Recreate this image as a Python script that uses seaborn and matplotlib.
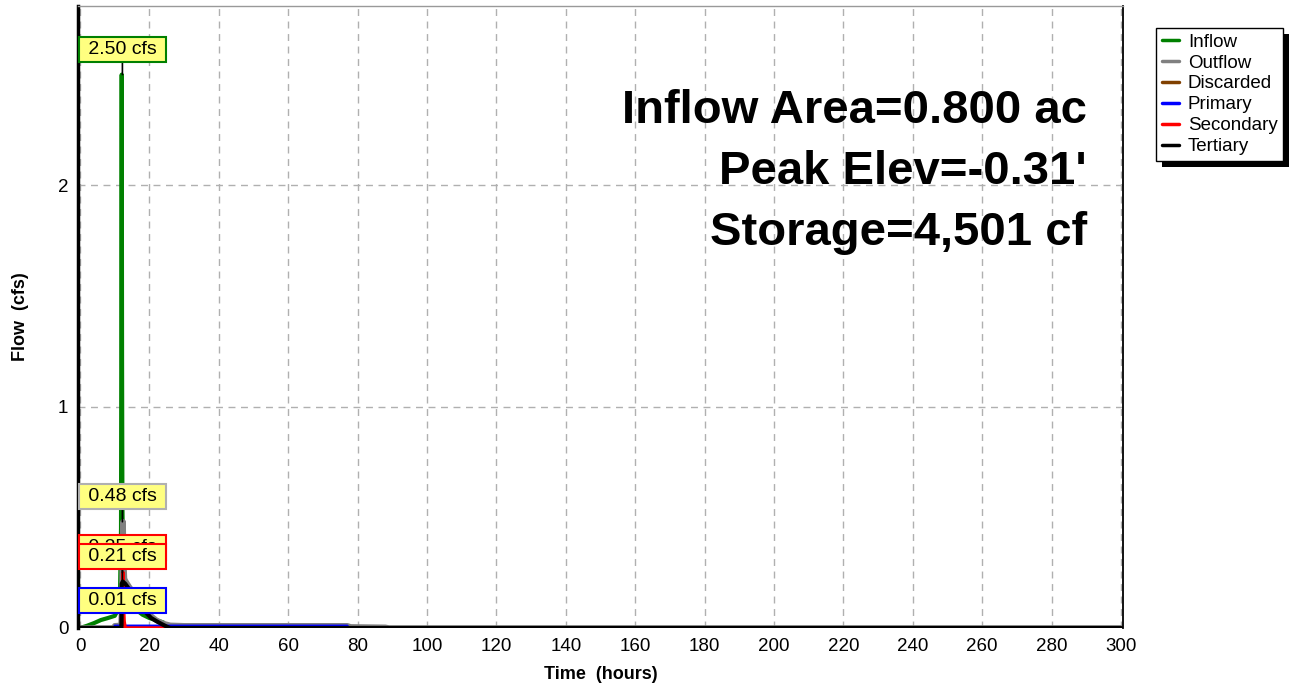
import numpy as np
import pandas as pd
import matplotlib
matplotlib.use("Agg")
import matplotlib.pyplot as plt
from matplotlib.ticker import MultipleLocator
from matplotlib.patches import Rectangle
import seaborn as sns

# hydrograph values (hours, cfs)
inflow_t = [0, 1, 2, 4, 6, 8, 9, 10, 10.5, 11, 11.5, 11.8, 12.0, 12.1, 12.2, 12.4, 12.6, 13, 14, 15, 16, 18, 20, 22, 24, 24.5, 25, 300]
inflow_q = [0, 0.005, 0.01, 0.022, 0.036, 0.045, 0.05, 0.055, 0.07, 0.09, 0.14, 0.45, 2.50, 1.2, 0.55, 0.3, 0.22, 0.17, 0.12, 0.1, 0.085, 0.06, 0.045, 0.035, 0.025, 0.01, 0, 0]

outflow_t = [0, 9.8, 10, 11.8, 12.0, 12.2, 12.4, 12.6, 12.8, 13, 14, 16, 18, 20, 22, 24, 26, 30, 77, 78, 88, 89, 300]
outflow_q = [0, 0, 0.01, 0.012, 0.1, 0.35, 0.48, 0.3, 0.22, 0.215, 0.19, 0.145, 0.1, 0.06, 0.035, 0.02, 0.012, 0.01, 0.01, 0.005, 0.003, 0, 0]

discarded_t = [0, 300]
discarded_q = [0, 0]

primary_t = [0, 9.8, 10, 77, 77.5, 300]
primary_q = [0, 0, 0.01, 0.01, 0, 0]

secondary_t = [0, 12.2, 12.4, 12.5, 12.7, 13.0, 300]
secondary_q = [0, 0, 0.25, 0.1, 0.03, 0, 0]

tertiary_t = [0, 11.9, 12.0, 12.3, 13, 14.4, 16, 17.3, 19.2, 20.5, 22.1, 23.5, 25, 26, 300]
tertiary_q = [0, 0, 0.2, 0.21, 0.2, 0.17, 0.135, 0.11, 0.066, 0.045, 0.03, 0.018, 0.006, 0, 0]

series_names = ["Inflow", "Outflow", "Discarded", "Primary", "Secondary", "Tertiary"]
series_colors = ["#008000", "#808080", "#804000", "#0000ff", "#ff0000", "#000000"]
series_widths = [3, 4, 2, 1.8, 2.5, 3]

peak_labels = ["2.50 cfs", "0.48 cfs", "0.25 cfs", "0.21 cfs", "0.01 cfs"]
peak_values = [2.50, 0.48, 0.25, 0.21, 0.01]
peak_edge = ["#008000", "#b0b0b0", "#ff0000", "#ff0000", "#0000ff"]

info_lines = ["Inflow Area=0.800 ac", "Peak Elev=-0.31'", "Storage=4,501 cf"]

sns.set_style("white")
plt.rcParams["font.family"] = ["Liberation Sans", "DejaVu Sans"]
plt.rcParams["text.color"] = "black"
plt.rcParams["axes.labelcolor"] = "black"
plt.rcParams["xtick.labelcolor"] = "black"
plt.rcParams["ytick.labelcolor"] = "black"

fig = plt.figure(figsize=(12.94, 6.84), dpi=100)
ax = fig.add_axes([78 / 1294, 1 - 628 / 684, (1123 - 78) / 1294, (628 - 6) / 684])

series = [(inflow_t, inflow_q), (outflow_t, outflow_q), (discarded_t, discarded_q),
          (primary_t, primary_q), (secondary_t, secondary_q), (tertiary_t, tertiary_q)]
for (t, q), name, col, lw in zip(series, series_names, series_colors, series_widths):
    df = pd.DataFrame({"t": t, "q": q})
    sns.lineplot(data=df, x="t", y="q", ax=ax, color=col, lw=lw, label=name, legend=False)

ax.set_xlim(-0.6, 300.6)
ax.set_ylim(0, 2.81)
ax.xaxis.set_major_locator(MultipleLocator(20))
ax.xaxis.set_minor_locator(MultipleLocator(5))
ax.yaxis.set_major_locator(MultipleLocator(1))
ax.yaxis.set_minor_locator(MultipleLocator(0.2))
ax.grid(True, which="major", color="#b0b0b0", ls=(0, (5, 4)), lw=1)
ax.tick_params(which="both", direction="out", color="#777777", labelsize=13.5, pad=2)
ax.tick_params(which="major", length=5)
ax.tick_params(which="minor", length=4)

ax.spines["left"].set_color("black")
ax.spines["left"].set_linewidth(2.5)
ax.spines["right"].set_color("black")
ax.spines["right"].set_linewidth(1.3)
ax.spines["top"].set_color("#999999")
ax.spines["top"].set_linewidth(1)
ax.spines["bottom"].set_visible(False)

ax.set_xlabel("Time  (hours)", fontsize=13, fontweight="bold", labelpad=8)
ax.set_ylabel("Flow  (cfs)", fontsize=13, fontweight="bold", labelpad=21)

# peak labels (0.21 box sits partly over the 0.25 box, as in the original)
for lab, val, ec in zip(peak_labels, peak_values, peak_edge):
    ax.annotate(" " + lab + " ", xy=(12.2, val), xytext=(0, 25), textcoords="offset pixels",
                ha="center", va="center", fontsize=14,
                bbox=dict(boxstyle="square,pad=0.2", fc="#ffff80", ec=ec, lw=1.5),
                arrowprops=dict(arrowstyle="-", color="black", lw=1.2, shrinkA=0, shrinkB=0),
                zorder=10)

for i, line in enumerate(info_lines):
    ax.text(1087 / 1294, 1 - (111 + 61 * i) / 684, line, transform=fig.transFigure,
            ha="right", va="center", fontsize=34, fontweight="bold")

leg = fig.legend(handles=ax.get_lines()[:6], labels=series_names, loc="upper left",
                 bbox_to_anchor=(1156 / 1294, 1 - 28 / 684), borderaxespad=0,
                 fontsize=13.5, handlelength=0.95, handletextpad=0.45, labelspacing=0.2,
                 borderpad=0.3, frameon=True, fancybox=False, framealpha=1, facecolor="white")
leg.get_frame().set_edgecolor("black")
leg.get_frame().set_linewidth(1)
leg.set_zorder(5)
for h in leg.legend_handles:
    h.set_linewidth(2.5)

# solid black drop shadow behind the legend box
fig.canvas.draw()
bb = leg.get_window_extent()
W, H = fig.bbox.width, fig.bbox.height
fig.patches.append(Rectangle(((bb.x0 + 6) / W, (bb.y0 - 6) / H), bb.width / W, bb.height / H,
                             transform=fig.transFigure, fc="black", ec="none", zorder=4))

plt.savefig("out.png", dpi=100)
